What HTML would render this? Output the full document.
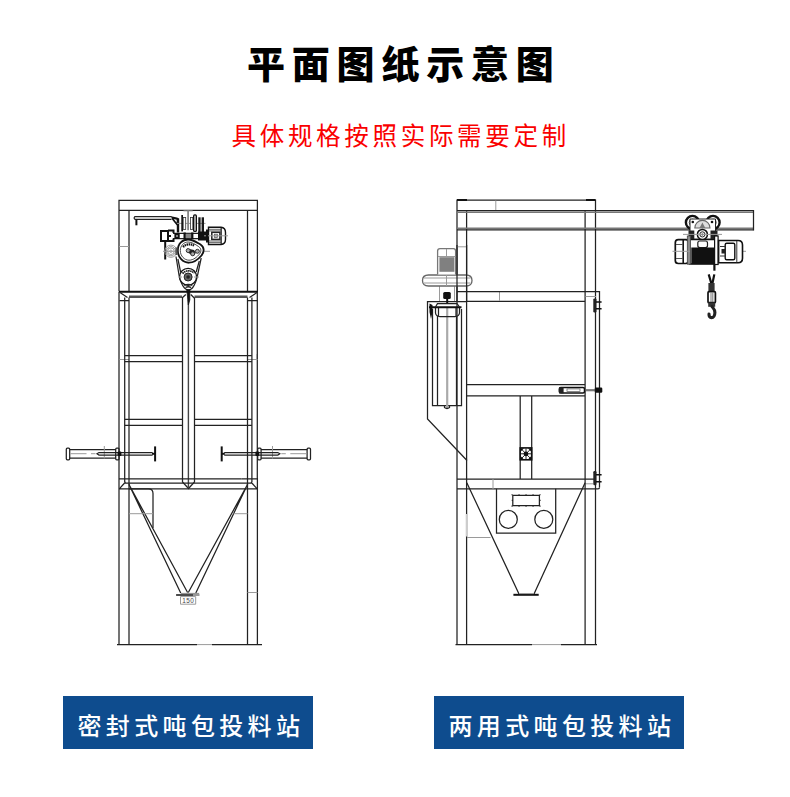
<!DOCTYPE html>
<html lang="zh-CN">
<head>
<meta charset="utf-8">
<title>平面图纸示意图</title>
<style>
html,body{margin:0;padding:0;background:#fff;}
body{width:790px;height:797px;position:relative;overflow:hidden;font-family:"Liberation Sans","Noto Sans CJK SC",sans-serif;}
.title{position:absolute;left:0;top:37px;width:790px;text-align:center;font-size:38px;line-height:56px;font-weight:900;color:#000;letter-spacing:6.8px;text-indent:17.6px;white-space:nowrap;}
.sub{position:absolute;left:0;top:119px;width:790px;text-align:center;font-size:24.5px;line-height:36px;font-weight:400;color:#fa0000;letter-spacing:3.7px;text-indent:11.4px;white-space:nowrap;}
.btn{position:absolute;top:696px;height:53px;background:#0e4c8e;color:#fff;font-size:24px;line-height:61px;font-weight:500;overflow:hidden;text-align:center;letter-spacing:4.35px;text-indent:5.8px;white-space:nowrap;}
.b1{left:63px;width:250px;}
.b2{left:434px;width:250px;}
svg{position:absolute;left:0;top:0;}
.k{stroke:#222;stroke-width:1.25;fill:none;}
.g{stroke:#9a9a9a;stroke-width:1;fill:none;}
.t{stroke:#111;stroke-width:2;fill:none;}
</style>
</head>
<body>
<div class="title">平面图纸示意图</div>
<div class="sub">具体规格按照实际需要定制</div>
<svg width="790" height="797" viewBox="0 0 790 797">
<!--LEFT-->
<g id="left">
<!-- top frame -->
<path class="k" d="M119 291.5V200.400H257.400V291.5M119 210.400H257.400M129 210.500V291.5M247.500 210.500V291.5"/>
<path class="g" d="M119 246.500H129"/>
<!-- upper beam -->
<path class="t" d="M119 291.7H258" stroke-width="1.500"/>
<path d="M129 296.700H182M194.500 296.700H247.500" stroke="#555" stroke-width="2.400" fill="none"/>
<path class="k" d="M120 292.500L127.500 297.500M257 292.500L249.500 297.500"/>
<!-- posts mid -->
<path class="k" d="M119 292V478M257.300 292V478" stroke="#555" stroke-width="0.9"/>
<path class="k" d="M119.5 300.5H129M257.5 300.5H248"/>
<path class="g" d="M119.5 359.500H129M248 359.500H257.500M256.500 354V360"/>
<path class="k" d="M124.700 297.5V482M129 297.5V484.600M247.500 297.5V484.600M251.900 297.5V482"/>
<!-- center post -->
<path class="k" d="M182.5 297.5V482L188.5 488.5L194.5 482V297.5"/>
<path d="M188.400 300V488" stroke="#444" stroke-width="1.400" fill="none"/>
<!-- rails -->
<path class="k" d="M124.700 355.600H182.5M124.700 361.600H182.5M194.5 355.600H251.900M194.5 361.600H251.900M124.700 419.300H182.5M124.700 425.300H182.5M194.5 419.300H251.900M194.5 425.300H251.900"/>
<!-- bottom beam -->
<path class="k" d="M119 478.900H135M241.500 478.900H257.400M125 483H251.500M119 488.900H257.400M119.500 488.700L125.500 482M257 488.700L251 482"/>
<path class="k" d="M135 478.900H241.500" stroke="#777"/>
<!-- legs -->
<path class="k" d="M119 478V644.500M129 484V644.500M247.500 484V644.500M257.400 478V644.500"/>
<path class="k" d="M117 644.600H197M212 644.600H262" stroke="#333" stroke-width="1.300"/>
<path class="g" d="M197 644.600H212" stroke="#bbb"/>
<!-- hopper -->
<path class="k" d="M129 484.600L187.600 592.500M129 484.600L180.700 593M247.500 484.600L188.300 592.500M247.500 484.600L195.800 593" stroke="#111" stroke-width="1.350"/>
<path d="M180.800 593.400H199.200" stroke="#888" stroke-width="1" fill="none"/>
<path d="M176.100 595H193" stroke="#111" stroke-width="1.500" fill="none"/>
<path d="M193 595H199.500" stroke="#777" stroke-width="1.500" fill="none"/>
<path class="g" d="M180.500 596.600H195.700V604.200H180.500Z" stroke="#888"/>
<text x="188.300" y="603.200" font-size="6.400" letter-spacing="0.400" text-anchor="middle" fill="#444" font-family="Liberation Sans, sans-serif">150</text>
<path class="k" d="M129 488.900H148.500Q153 488.900 153 493.500V528"/>
<path class="g" d="M129 513.700H153M233.500 513.700H247.500M247.500 592.500H257.500"/>
<!-- hoist L -->
<g id="hoistL">
<path class="k" d="M171.500 216.600H135Q133.300 218 135 219.300H171.500" fill="#fff" stroke="#111" stroke-width="1.600"/>
<path class="t" d="M136.400 219.500V225.300" stroke-width="2.100"/>
<path d="M171 216.300L177 217.500L179.200 218.500V232.500H176.800V225.500L172 219.500Z" fill="#111"/>
<path d="M173.800 219L176.700 222.800V219.800Z" fill="#fff"/>
<path class="g" d="M177 223.400H205.500" stroke="#777" stroke-width="0.900"/>
<path d="M183.500 210.900H192.700" stroke="#999" stroke-width="1" fill="none"/>
<path d="M188.100 210.500V230.200" stroke="#888" stroke-width="1.800" fill="none"/>
<rect x="181.300" y="215" width="1.700" height="16.400" fill="#111"/>
<rect x="183.200" y="217.500" width="2.500" height="12" fill="#fff" stroke="#333" stroke-width="0.800"/>
<rect x="190.500" y="217.500" width="2.300" height="12" fill="#fff" stroke="#333" stroke-width="0.800"/>
<rect x="193.700" y="214.900" width="2.600" height="16.500" rx="1" fill="#fff" stroke="#111" stroke-width="1.400"/>
<rect x="198.300" y="217.300" width="2.300" height="21.300" fill="#1a1a1a"/>
<rect x="201.600" y="217.300" width="2.400" height="21.300" fill="#1a1a1a"/>
<!-- axle -->
<path class="k" d="M173 233.300H206M173 238.600H206" stroke-width="1"/>
<path d="M174.400 233H179.700V239H174.400ZM183.500 232.500H185.800V239H183.500ZM191.100 232.500H193.400V239H191.100ZM198 231.500H207V240.500H198Z" fill="#111"/>
<path d="M186 233.800H191V238.200H186Z" fill="#888"/>
<circle cx="177" cy="236" r="1" fill="#aaa"/>
<!-- motor -->
<path d="M208.500 227.300H221Q225.500 227.800 225.500 232.500V239.500Q225.500 244 221 244.500H208.500Z" fill="#fff" stroke="#111" stroke-width="1.400"/>
<path d="M209 229.300H221M209 230.900H221M209 241H221M209 242.600H221" stroke="#555" stroke-width="0.900" fill="none"/>
<path class="k" d="M221.200 228V244" stroke-width="1"/>
<rect x="211.800" y="232.300" width="8.100" height="7.100" fill="#fff" stroke="#222" stroke-width="1.500"/>
<rect x="214.300" y="234.200" width="3.200" height="3.300" fill="#bbb" stroke="#555" stroke-width="0.700"/>
<path class="g" d="M204 235.800H228"/>
<path class="t" d="M207 229.500V242.500" stroke-width="2.600"/>
<!-- left box -->
<path class="t" d="M161 231H168V241H161Z" fill="#fff" stroke-width="1.800"/>
<path class="t" d="M168 230.500H173.500V233M168 236H171M169 241H173.500V238.500" stroke-width="1.500"/>
<path class="t" d="M165.200 241.800V259.500" stroke-width="2.200"/>
<!-- gray circle -->
<circle cx="170.900" cy="251.200" r="6.100" class="g"/><circle cx="170.900" cy="251.200" r="4.600" class="g" stroke="#bbb"/><circle cx="170.900" cy="251.200" r="3.300" class="g" stroke="#888"/><circle cx="170.900" cy="251.200" r="1.200" class="g"/>
<path class="g" d="M163 251.300H210M188.200 240V264"/>
<!-- side plates -->
<path class="k" d="M176 256.500L179 275Q180.300 283 184.500 288L188.400 291L192.400 288Q196.200 283 197.600 275L201.200 258" stroke="#111" stroke-width="1.400"/>
<path class="k" d="M177.900 259L180.600 272M199.300 261L196.200 272" stroke="#222" stroke-width="1"/>
<!-- housing -->
<path d="M177.800 250.600C177.800 243.500 182.500 239.500 188 239.500C193 239.500 197 242.500 200.500 244.500C204.500 247 204.500 252 201.500 255.500C198.500 259 194.500 262.700 189 262.700C183 262.700 177.800 257.500 177.800 250.600Z" fill="#fff" stroke="#111" stroke-width="1.800"/>
<path d="M180.300 250.600C180.300 245.500 184 242 188 242C192 242 195.500 244.500 198.500 246.500C201.500 248.500 201.500 251.500 199.500 254C197 257 193.500 260.200 189 260.200C184.500 260.200 180.300 256 180.300 250.600Z" fill="none" stroke="#333" stroke-width="0.900"/>
<path d="M183 247Q188 242.300 194.500 245.800" fill="none" stroke="#111" stroke-width="2.200" stroke-dasharray="1.500 0.600"/>
<path d="M187 248.500L194 250L196 253L192.500 255.500L188.500 253Z" fill="#222"/>
<circle cx="188.200" cy="250.600" r="2" fill="#aaa" stroke="#222" stroke-width="0.900"/>
<circle cx="192.700" cy="253.800" r="2" fill="#aaa" stroke="#222" stroke-width="0.900"/>
<circle cx="197.400" cy="251.300" r="2" fill="#aaa" stroke="#222" stroke-width="0.900"/>
<path d="M176.500 247.500V255" stroke="#555" stroke-width="2.200" fill="none"/>
<!-- pulley -->
<circle cx="188.100" cy="276.800" r="8.500" fill="#fff" stroke="#111" stroke-width="1.300"/>
<circle cx="188.100" cy="277" r="4" fill="#666" stroke="#222" stroke-width="1"/>
<circle cx="188.100" cy="277" r="1.800" fill="#222"/>
<path d="M182.500 273.500Q188 268.500 194.500 273" fill="none" stroke="#111" stroke-width="1.700" stroke-dasharray="1.500 0.600"/>
<path class="g" d="M178 277H182M194 277H199" stroke="#bbb"/>
<!-- hook tip -->
<path class="k" d="M184.300 285.500Q188.300 283.300 192.300 285.500M185.500 287.500Q188.300 286 191.200 287.500" stroke="#222" stroke-width="1"/>
<path d="M186.800 289.500H189.800V300L188.300 305Z" fill="#111" stroke="#111" stroke-width="0.800"/>
<path class="k" d="M182 298L185.800 294.500M194.300 298L190.700 294.500" stroke-width="1"/>
</g>
<!-- cylinders -->
<g id="cylL">
<path class="k" d="M69.500 449.500H116M69.500 458H116" stroke-width="1.500"/>
<rect x="66.300" y="448.200" width="3.400" height="11.600" rx="1" class="k" fill="#fff"/>
<rect x="115.700" y="448.200" width="3.400" height="11.600" rx="1" class="k" fill="#fff"/>
<path class="g" d="M70.500 453.700H86.500M91 453.700H95.500M104.300 446V458.500"/>
<path class="k" d="M152.600 452.500H99L97 453.800L99 455.100H152.600" stroke-width="1.100"/>
<rect x="117.600" y="451.600" width="3.800" height="4.300" rx="1" fill="#111"/>
<path class="t" d="M155.100 446.400V461.400" stroke-width="2.300"/>
<path class="t" d="M152 453.800H155"/>
</g>
<g transform="translate(376.800,0) scale(-1,1)">
<path class="k" d="M69.500 449.500H116M69.500 458H116" stroke-width="1.500"/>
<rect x="66.300" y="448.200" width="3.400" height="11.600" rx="1" class="k" fill="#fff"/>
<rect x="115.700" y="448.200" width="3.400" height="11.600" rx="1" class="k" fill="#fff"/>
<path class="g" d="M70.500 453.700H86.500M91 453.700H95.500M104.300 446V458.500"/>
<path class="k" d="M152.600 452.500H99L97 453.800L99 455.100H152.600" stroke-width="1.100"/>
<rect x="117.600" y="451.600" width="3.800" height="4.300" rx="1" fill="#111"/>
<path class="t" d="M155.100 446.400V461.400" stroke-width="2.300"/>
<path class="t" d="M152 453.800H155"/>
</g>
</g>
<!--RIGHT-->
<g id="right">
<!-- frame -->
<path class="k" d="M457 644.500V200H595.500V644.500M466.600 210.500V644.500M585.100 210.500V644.500"/>
<path class="t" d="M457 200H467M586 200H595.500" stroke-width="1.600"/>
<path class="g" d="M495.800 200.500V210.500M457 246.800H466.500M499.500 291.500V300.500M585.500 296.500H596"/>
<!-- jib beam -->
<path class="k" d="M457 210.500H753.500M457 229.900H753.500" stroke="#111" stroke-width="1.300"/>
<path d="M457 212.300H753M457 228.200H753" stroke="#777" stroke-width="1.500" fill="none"/>
<path class="k" d="M753.500 210V230.500"/>
<!-- mid beam -->
<path class="k" d="M457 291.500H599.500V487.500M466.500 301.300H585"/>
<!-- lower mid beam -->
<path class="k" d="M466.500 384.600H585M466.500 395.800H585"/>
<!-- center column -->
<path class="k" d="M520.200 396V479M531.700 396V479" stroke="#111" stroke-width="1.450"/>
<rect x="520.200" y="447.900" width="11.500" height="11.900" fill="#fff" stroke="#111" stroke-width="1.600"/>
<path d="M520.500 448.200L524 448.200L520.500 451.700ZM531.400 448.200L527.900 448.200L531.400 451.700ZM520.500 459.500L524 459.500L520.500 456ZM531.400 459.500L527.900 459.500L531.400 456Z" fill="#111"/>
<path d="M521 448.700L531 459M531 448.700L521 459M526 448.500V459.300M520.700 453.800H531.300" stroke="#111" stroke-width="0.900" fill="none"/>
<circle cx="525.950" cy="453.800" r="2.400" fill="#111"/>
<!-- bottom beam -->
<path class="k" d="M457 479H594M457 488.900H598Q599.500 488.900 599.500 487.500"/>
<path class="g" d="M493 479V489M586 483.800H593"/>
<!-- hopper -->
<path class="k" d="M466.800 482.700L519 594M585.100 482.700L534 594" stroke="#111" stroke-width="1.300"/>
<path d="M466.600 514V536.500" stroke="#ccc" stroke-width="1.600" fill="none"/>
<path class="t" d="M513.400 594.800H538.700" stroke-width="1.600"/>
<path d="M519.500 593.600H533.500" stroke="#999" stroke-width="1" fill="none"/>
<path class="g" d="M467 537.500H490.500"/>
<!-- control panel -->
<path class="k" d="M496.500 488.800V533H555.700V488.800M512.800 495.400H539.400V505.500H512.800Z"/>
<path d="M511.500 494.700H541M511.500 506.100H541" stroke="#222" stroke-width="1.100" stroke-dasharray="1.100 5.900" fill="none"/>
<path d="M512.300 499.800V501M540 499.800V501" stroke="#222" stroke-width="1.100" fill="none"/>
<circle cx="508.300" cy="519.400" r="9" class="k"/><circle cx="543.800" cy="519.400" r="9" class="k"/>
<!-- floor -->
<path class="k" d="M455.500 644.600H532M561 644.600H597" stroke="#333" stroke-width="1.300"/>
<path class="g" d="M532 644.600H561" stroke="#bbb"/>
<!-- filter box -->
<path class="k" d="M466.500 301.500H427.500V419L467 460.500"/>
<path class="k" d="M432.500 309V405.500H461.500V309M437.500 316V405.500M456.500 316V405.500"/>
<path d="M447.200 307V408" stroke="#aaa" stroke-width="2.200" fill="none"/>
<path class="k" d="M444.500 405.500V407.500Q447 409.500 449.500 407.500V405.500"/>
<!-- filter cap -->
<path class="k" d="M437 303.500H457M435.500 307.500V313Q436 316.500 440 316.500H455Q459 316.500 459.500 313V307.500M438.500 308V316M456 308V316"/>
<path class="t" d="M429 307.200H461.500" stroke-width="1.800"/>
<path d="M429.500 303.500L432.500 305V312L431 319L429.500 312Z" fill="#111"/>
<path class="k" d="M435.500 307L437.500 303.500M459.500 307L457 303.500"/>
<!-- fan -->
<path class="g" d="M439.500 286V301M454.500 286V301" stroke="#888"/>
<rect x="443.200" y="292" width="7.600" height="7" rx="1.500" fill="#111"/>
<path class="t" d="M447.200 298V303"/>
<path d="M428.500 275H466Q472 275 472 280.500Q472 286 466 286H428.500Q422.500 286 422.500 280.500Q422.500 275 428.500 275Z" fill="#fff" stroke="#666" stroke-width="1.300"/>
<path class="g" d="M424 278H470.500M424 283H470.500M446.500 275V286" stroke="#888"/>
<path d="M437.600 274.500V251Q437.600 248.700 440 248.700H453.500Q455.600 248.700 455.600 251V274.500" fill="#fff" stroke="#777" stroke-width="1.300"/>
<rect x="439.400" y="257.200" width="15" height="14.600" fill="#808080"/>
<path class="g" d="M446.500 249V257M438 256.500H455.500" stroke="#999"/>
<path class="k" d="M457 245V301M466.600 245V301"/>
<!-- hoist R -->
<g id="hoistR">
<!-- wheels -->
<circle cx="692.500" cy="222.500" r="6.600" fill="#fff" stroke="#111" stroke-width="2.400"/>
<circle cx="713" cy="222.500" r="6.600" fill="#fff" stroke="#111" stroke-width="2.400"/>
<circle cx="692.500" cy="222.500" r="3.300" fill="none" stroke="#444" stroke-width="0.900"/>
<circle cx="713" cy="222.500" r="3.300" fill="none" stroke="#444" stroke-width="0.900"/>
<!-- trolley plates -->
<path d="M690 219H715.500V239H690Z" fill="#fff" stroke="#222" stroke-width="1"/>
<path d="M694.800 228A7.600 7.600 0 0 1 710 228Z" fill="#ddd" stroke="#666" stroke-width="1.100"/>
<path d="M699.500 228L702.400 222.500L705.300 228Z" fill="#777"/>
<circle cx="692.800" cy="222" r="1.300" fill="#111"/><circle cx="712" cy="222" r="1.300" fill="#111"/>
<path d="M688.500 230.500H694.300V239.400H688.500ZM710.500 230.500H717.500V239.400H710.500Z" fill="#222"/>
<circle cx="702.400" cy="234.400" r="5" fill="#fff" stroke="#111" stroke-width="1.500"/>
<circle cx="702.400" cy="234.400" r="2.600" fill="#fff" stroke="#222" stroke-width="1"/>
<circle cx="702.400" cy="234.400" r="1" fill="#222"/>
<path class="g" d="M683 234.400H722"/>
<!-- body -->
<rect x="675.300" y="239.700" width="13.500" height="23.800" rx="3" fill="#fff" stroke="#111" stroke-width="1.700"/>
<path d="M683.200 240V263.500" stroke="#111" stroke-width="1.600" fill="none"/>
<path d="M676 244.500H683M676 258.500H683" stroke="#555" stroke-width="1" fill="none"/>
<path d="M689.500 239.700H716V264H689.500Z" fill="#fff" stroke="#111" stroke-width="1.300"/>
<rect x="687.300" y="236" width="3.200" height="28.200" fill="#8a8a8a" stroke="#444" stroke-width="0.800"/>
<rect x="697.800" y="241" width="9.700" height="6.500" rx="2" fill="#fff" stroke="#222" stroke-width="1.200"/>
<path class="g" d="M672.500 251.300H690M718 251.300H746"/>
<rect x="691.300" y="247.500" width="23.300" height="16.700" fill="#111"/>
<rect x="714.600" y="236" width="3.500" height="28.500" fill="#fff" stroke="#111" stroke-width="1.200"/>
<path d="M718.600 240.500H738Q742.500 240.500 742.500 245V258.200Q742.500 262.700 738 262.700H718.600Z" fill="#fff" stroke="#111" stroke-width="1.600"/>
<rect x="725.200" y="243.200" width="9.600" height="16.500" rx="1.500" fill="#fff" stroke="#111" stroke-width="1.400"/>
<path d="M736.800 241V262.500M720 246.500H725M720 256H725" stroke="#333" stroke-width="1" fill="none"/>
<rect x="721.500" y="249" width="3.500" height="4.500" fill="#222"/>
<!-- cable + hook -->
<path d="M714.400 264V270.700" stroke="#111" stroke-width="2.200" fill="none"/>
<path d="M708.700 274.400L711.500 284M714.300 274.400L712.300 284" stroke="#111" stroke-width="2.200" fill="none"/>
<rect x="708.400" y="283" width="6.200" height="8" fill="#333"/>
<rect x="708" y="291.700" width="7.400" height="11" rx="1" fill="#fff" stroke="#111" stroke-width="1.700"/>
<path d="M711 293V302M712.800 293V302" stroke="#555" stroke-width="0.800" fill="none"/>
<rect x="708.200" y="302.600" width="7" height="4.200" fill="#333"/>
<path d="M712 306.500C713.500 308.500 715 309.500 714.900 312.500C714.800 316 713.300 317.600 711.500 317.600C709.700 317.600 708.900 316 709 314" fill="none" stroke="#222" stroke-width="3.100" stroke-linecap="round"/>
</g>
<!-- hinges -->
<rect x="593.300" y="298.400" width="3.200" height="14" rx="1.200" fill="#222"/>
<path d="M596 302H601.600M596 308.800H601.600" stroke="#111" stroke-width="1.400" fill="none"/>
<rect x="593.300" y="471.100" width="3.200" height="14.200" rx="1.200" fill="#222"/>
<path d="M596 474.700H601.600M596 481.700H601.600" stroke="#111" stroke-width="1.400" fill="none"/>
<!-- door cylinder -->
<rect x="559.300" y="387.500" width="25.200" height="5.500" rx="1.500" fill="#fff" stroke="#111" stroke-width="1.500"/>
<rect x="559" y="387.300" width="4.600" height="6" fill="#222"/>
<rect x="567" y="388.900" width="13" height="2.700" fill="#fff" stroke="#555" stroke-width="0.700"/>
<path d="M585.700 390.200H595.600" stroke="#777" stroke-width="2.200" fill="none"/>
<rect x="594.800" y="387.500" width="7.500" height="5.300" rx="1.200" fill="#111"/>
</g>
</svg>
<div class="btn b1">密封式吨包投料站</div>
<div class="btn b2">两用式吨包投料站</div>
</body>
</html>
